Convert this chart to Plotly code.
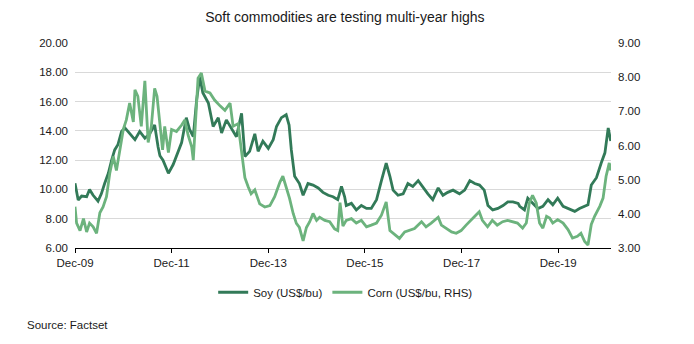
import plotly.graph_objects as go

# Soybean front-month price, US$/bu (left axis)
soy_dates = [
    "2009-12-01", "2009-12-25", "2010-01-20", "2010-02-27", "2010-03-21", "2010-04-17",
    "2010-05-24", "2010-06-18", "2010-07-13", "2010-08-10", "2010-09-04", "2010-09-27",
    "2010-10-21", "2010-11-18", "2010-12-13", "2011-01-18", "2011-02-27", "2011-04-04",
    "2011-05-13", "2011-06-18", "2011-07-26", "2011-08-21", "2011-09-04", "2011-09-27",
    "2011-11-07", "2011-12-13", "2012-01-07", "2012-02-15", "2012-03-21", "2012-04-15",
    "2012-05-13", "2012-06-07", "2012-07-01", "2012-07-24", "2012-09-04", "2012-10-10",
    "2012-11-18", "2012-12-13", "2013-01-18", "2013-02-27", "2013-04-04", "2013-05-13",
    "2013-06-07", "2013-07-13", "2013-08-21", "2013-09-15", "2013-10-21", "2013-12-01",
    "2014-01-07", "2014-02-01", "2014-03-10", "2014-04-15", "2014-05-07", "2014-05-24",
    "2014-06-18", "2014-07-24", "2014-08-21", "2014-09-27", "2014-11-04", "2014-12-13",
    "2015-01-18", "2015-02-27", "2015-04-04", "2015-05-10", "2015-06-07", "2015-07-01",
    "2015-07-13", "2015-08-21", "2015-09-27", "2015-11-04", "2015-12-13", "2016-01-18",
    "2016-02-27", "2016-04-04", "2016-05-10", "2016-06-07", "2016-07-01", "2016-08-07",
    "2016-09-15", "2016-10-21", "2016-11-27", "2017-01-07", "2017-02-13", "2017-03-21",
    "2017-04-27", "2017-06-07", "2017-07-13", "2017-08-18", "2017-09-27", "2017-11-15",
    "2017-12-24", "2018-02-01", "2018-03-10", "2018-04-15", "2018-05-21", "2018-06-18",
    "2018-07-24", "2018-09-01", "2018-10-10", "2018-11-15", "2018-12-24", "2019-02-01",
    "2019-02-13", "2019-03-07", "2019-03-21", "2019-04-15", "2019-05-21", "2019-07-01",
    "2019-08-07", "2019-09-15", "2019-10-21", "2019-11-27", "2020-01-07", "2020-02-13",
    "2020-04-04", "2020-05-10", "2020-06-18", "2020-07-13", "2020-08-07", "2020-09-15",
    "2020-10-21", "2020-11-18", "2020-12-13", "2021-01-01",
]
soy_values = [
    10.42, 9.28, 9.55, 9.50, 10.00, 9.60,
    9.20, 9.70, 10.40, 11.10, 12.00, 12.70,
    13.05, 13.96, 14.20, 13.80, 13.40, 13.96,
    13.50, 13.80, 14.40, 12.90, 12.30, 12.00,
    11.10, 11.70, 12.25, 13.20, 14.90, 14.10,
    13.60, 16.10, 17.70, 16.60, 15.90, 14.30,
    14.90, 13.85, 14.75, 14.10, 13.60, 15.20,
    12.25, 12.60, 13.80, 12.60, 13.30, 12.80,
    13.40, 14.30, 14.90, 15.10, 14.40, 12.70,
    10.90, 10.40, 9.60, 10.40, 10.30, 10.10,
    9.80, 9.60, 9.50, 9.30, 10.20, 9.50,
    8.90, 9.05, 8.60, 8.90, 8.70, 8.70,
    9.30, 10.60, 11.80, 10.90, 9.95, 9.60,
    9.70, 10.40, 10.20, 10.60, 10.10, 9.70,
    9.30, 10.10, 9.60, 9.80, 9.95, 9.70,
    9.95, 10.60, 10.40, 10.30, 9.95, 8.90,
    8.60, 8.70, 8.90, 9.15, 9.15, 9.05,
    8.85, 8.70, 8.60, 9.40, 9.10, 8.70,
    8.85, 9.30, 8.95, 9.40, 8.85, 8.70,
    8.50, 8.70, 8.85, 8.95, 10.30, 10.80,
    11.80, 12.50, 14.20, 13.30,
]

# Corn front-month price, US$/bu (right axis)
corn_dates = [
    "2009-12-01", "2009-12-13", "2010-01-08", "2010-02-03", "2010-02-27", "2010-03-21",
    "2010-04-17", "2010-05-13", "2010-06-07", "2010-07-01", "2010-07-27", "2010-08-21",
    "2010-09-16", "2010-10-10", "2010-11-07", "2010-12-01", "2010-12-24", "2011-01-18",
    "2011-02-15", "2011-02-27", "2011-03-21", "2011-04-16", "2011-05-13", "2011-06-07",
    "2011-07-01", "2011-07-26", "2011-08-13", "2011-09-04", "2011-09-24", "2011-10-10",
    "2011-11-07", "2011-12-01", "2012-01-07", "2012-02-15", "2012-03-10", "2012-04-04",
    "2012-05-01", "2012-05-13", "2012-06-18", "2012-07-13", "2012-08-10", "2012-09-16",
    "2012-10-21", "2012-12-01", "2013-01-07", "2013-02-15", "2013-03-10", "2013-04-16",
    "2013-05-13", "2013-06-07", "2013-07-01", "2013-07-24", "2013-08-21", "2013-09-27",
    "2013-11-04", "2013-12-13", "2014-01-18", "2014-02-27", "2014-03-21", "2014-04-15",
    "2014-05-10", "2014-06-07", "2014-07-01", "2014-07-24", "2014-08-21", "2014-09-15",
    "2014-10-10", "2014-11-04", "2014-12-01", "2014-12-24", "2015-02-01", "2015-03-10",
    "2015-04-16", "2015-05-10", "2015-05-27", "2015-06-18", "2015-07-13", "2015-08-21",
    "2015-09-27", "2015-11-04", "2015-12-13", "2016-01-18", "2016-02-27", "2016-04-04",
    "2016-05-10", "2016-06-07", "2016-07-13", "2016-08-18", "2016-09-27", "2016-11-04",
    "2016-12-10", "2017-02-01", "2017-03-07", "2017-04-15", "2017-05-13", "2017-06-07",
    "2017-07-01", "2017-08-07", "2017-09-16", "2017-10-21", "2017-11-27", "2018-01-04",
    "2018-02-12", "2018-03-18", "2018-04-13", "2018-05-07", "2018-06-15", "2018-07-21",
    "2018-08-27", "2018-10-07", "2018-11-13", "2018-12-21", "2019-01-27", "2019-03-07",
    "2019-04-04", "2019-04-27", "2019-05-21", "2019-06-18", "2019-07-13", "2019-08-07",
    "2019-09-04", "2019-09-27", "2019-10-21", "2019-11-27", "2020-01-07", "2020-02-13",
    "2020-03-18", "2020-04-24", "2020-05-21", "2020-06-18", "2020-07-13", "2020-08-07",
    "2020-09-01", "2020-10-10", "2020-11-04", "2020-11-27", "2020-12-21", "2021-01-01",
]
corn_values = [
    4.21, 3.73, 3.51, 3.86, 3.47, 3.73,
    3.62, 3.43, 4.03, 4.20, 4.50, 5.19,
    5.68, 5.27, 5.91, 6.47, 6.75, 7.24,
    6.69, 7.63, 7.44, 6.56, 7.89, 6.09,
    6.56, 7.67, 7.44, 6.56, 5.87, 6.56,
    5.79, 6.47, 6.41, 6.60, 6.75, 6.30,
    5.96, 5.57, 7.97, 8.12, 7.59, 7.54,
    7.33, 7.16, 7.03, 7.24, 6.56, 6.64,
    5.87, 5.06, 4.80, 4.59, 4.70, 4.29,
    4.20, 4.24, 4.50, 4.93, 5.10, 4.80,
    4.46, 4.01, 3.72, 3.60, 3.21, 3.60,
    3.77, 4.01, 3.81, 3.90, 3.81, 3.77,
    3.56, 3.51, 4.33, 3.64, 3.81, 3.86,
    3.73, 3.81, 3.62, 3.67, 3.73, 3.96,
    4.35, 3.51, 3.39, 3.28, 3.47, 3.51,
    3.57, 3.77, 3.62, 3.73, 3.81, 3.90,
    3.67, 3.57, 3.47, 3.43, 3.51, 3.67,
    3.81, 3.96, 4.06, 3.81, 3.62, 3.81,
    3.67, 3.77, 3.81, 3.77, 3.73, 3.58,
    3.73, 4.32, 4.54, 4.32, 3.73, 3.58,
    3.93, 3.88, 3.73, 3.83, 3.73, 3.54,
    3.29, 3.34, 3.43, 3.19, 3.09, 3.69,
    3.93, 4.22, 4.46, 5.10, 5.49, 5.27,
]

# Axis ticks
x_tick_dates = ["2009-12-01", "2011-12-01", "2013-12-01", "2015-12-01", "2017-12-01", "2019-12-01"]
x_tick_labels = ["Dec-09", "Dec-11", "Dec-13", "Dec-15", "Dec-17", "Dec-19"]
soy_ticks = [6, 8, 10, 12, 14, 16, 18, 20]
corn_ticks = [3, 4, 5, 6, 7, 8, 9]

SOY_COLOR = "#327a58"
CORN_COLOR = "#6cb37d"
FONT = "Arial, 'Liberation Sans', sans-serif"
TEXT = "#1a1a1a"

fig = go.Figure()
fig.add_trace(go.Scatter(
    x=soy_dates, y=soy_values, name="Soy (US$/bu)", mode="lines",
    line=dict(color=SOY_COLOR, width=2.8), yaxis="y",
))
fig.add_trace(go.Scatter(
    x=corn_dates, y=corn_values, name="Corn (US$/bu, RHS)", mode="lines",
    line=dict(color=CORN_COLOR, width=2.8), yaxis="y2",
))

fig.update_layout(
    width=694, height=344,
    margin=dict(l=75, r=83, t=43, b=96),
    paper_bgcolor="white", plot_bgcolor="white",
    font=dict(family=FONT, size=11.5, color=TEXT),
    title=dict(text="Soft commodities are testing multi-year highs",
               x=0.497, xanchor="center", y=0.951, yanchor="middle",
               font=dict(size=14, color=TEXT, family=FONT)),
    xaxis=dict(
        type="date", range=["2009-12-01", "2021-01-03"],
        tickvals=x_tick_dates, ticktext=x_tick_labels,
        showgrid=False, zeroline=False,
        showline=True, linecolor="#000000", linewidth=1,
        ticks="outside", ticklen=4, tickcolor="#000000",
        tickfont=dict(size=11.5, color=TEXT),
    ),
    yaxis=dict(
        range=[6, 20], tickvals=soy_ticks, tickformat=".2f",
        showgrid=True, gridcolor="#d9d9d9", gridwidth=1,
        zeroline=False, showline=False, ticks="",
        ticklabelstandoff=6,
        tickfont=dict(size=11.5, color=TEXT),
    ),
    yaxis2=dict(
        range=[3, 9], tickvals=corn_ticks, tickformat=".2f",
        overlaying="y", side="right",
        showgrid=False, zeroline=False, showline=False, ticks="",
        ticklabelstandoff=6,
        tickfont=dict(size=11.5, color=TEXT),
    ),
    legend=dict(
        orientation="h", x=0.505, xanchor="center", y=-0.145, yanchor="top",
        font=dict(size=11.5, color=TEXT), bgcolor="rgba(0,0,0,0)",
        itemwidth=30, tracegroupgap=0,
    ),
    showlegend=True,
)

fig.add_annotation(
    text="Source: Factset", xref="paper", yref="paper",
    x=-0.093, y=-0.376, xanchor="left", yanchor="middle",
    showarrow=False, font=dict(size=11.5, color=TEXT, family=FONT),
)

fig.write_html("out.html")
